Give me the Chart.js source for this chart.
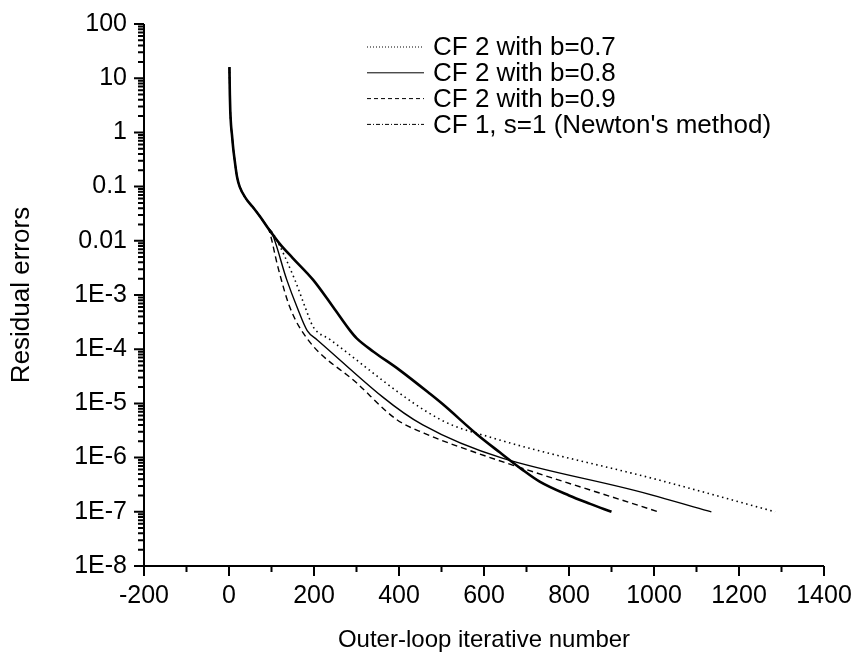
<!DOCTYPE html>
<html>
<head>
  <title>Residual errors vs outer-loop iterations</title>
  <script src="https://cdn.jsdelivr.net/npm/chart.js"></script>
  <style>
    body { margin: 0; background: #fff; }
  </style>
</head>
<body>
  <div style="width: 855px; height: 655px;">
    <canvas id="errPlot"></canvas>
  </div>

  <script>
    // first iterations, common to every run
    const headIter = [1, 2, 3, 5, 7, 10, 14, 19, 25, 40, 56, 73, 90];
    const headErr  = [16, 5, 2.5, 1.3, 0.9, 0.5, 0.28, 0.15, 0.1, 0.06, 0.042, 0.028, 0.018];

    // CF 2, b = 0.7
    const iterB07 = [105, 155, 179, 198, 238, 496, 621, 1009, 1285];
    const errB07  = [0.013, 1.9e-3, 6e-4, 2.6e-4, 1.5e-4, 5.1e-6, 2.3e-6, 3.9e-7, 1e-7];

    // CF 2, b = 0.8
    const iterB08 = [100, 136, 160, 184, 207, 456, 1009, 1135];
    const errB08  = [0.0145, 1.9e-3, 6e-4, 2.2e-4, 1.5e-4, 4e-6, 1.9e-7, 1e-7];

    // CF 2, b = 0.9
    const iterB09 = [95, 115, 143, 183, 300, 395, 460, 540, 1010];
    const errB09  = [0.015, 3.3e-3, 6e-4, 1.6e-4, 2.4e-5, 5e-6, 2.8e-6, 1.6e-6, 1e-7];

    // CF 1, s = 1 (Newton)
    const iterNewton = [100, 120, 150, 198, 245, 285, 300, 340, 400, 473, 504, 583, 637, 690, 731, 800, 850, 900];
    const errNewton  = [0.014, 0.0087, 0.0048, 1.9e-3, 6e-4, 2.2e-4, 1.6e-4, 9e-5, 4.2e-5, 1.5e-5, 9.5e-6, 2.7e-6, 1.25e-6, 6e-7, 3.6e-7, 2e-7, 1.4e-7, 1e-7];

    const seriesLabels = ['CF 2 with b=0.7', 'CF 2 with b=0.8', 'CF 2 with b=0.9', "CF 1, s=1 (Newton's method)"];

    const xMin = -200, xMax = 1400, xStep = 200;
    const yMin = 1e-8, yMax = 100;

    const FONT = 'Liberation Sans, Arial, Helvetica, sans-serif';

    function toPoints(iters, errs) {
      const pts = headIter.map((it, i) => ({ x: it, y: headErr[i] }));
      iters.forEach((it, i) => pts.push({ x: it, y: errs[i] }));
      return pts;
    }

    function decadeLabel(v) {
      const e = Math.round(Math.log10(v));
      if (e >= 0) return String(Math.pow(10, e));
      if (e >= -2) return e === -1 ? '0.1' : '0.01';
      return '1E' + e;
    }

    // axis lines with major/minor ticks pointing outward
    const axesPlugin = {
      id: 'axesTicks',
      afterDraw(chart) {
        const { ctx, chartArea: a, scales: { x, y } } = chart;
        ctx.save();
        ctx.strokeStyle = '#000';
        ctx.lineWidth = 2;
        ctx.beginPath();
        ctx.moveTo(a.left, a.top);
        ctx.lineTo(a.left, a.bottom);
        ctx.lineTo(a.right, a.bottom);
        for (let v = xMin; v <= xMax; v += xStep / 2) {
          const px = x.getPixelForValue(v);
          ctx.moveTo(px, a.bottom);
          ctx.lineTo(px, a.bottom + (v % xStep === 0 ? 10 : 6));
        }
        for (let e = -8; e <= 2; e++) {
          for (let k = 1; k <= 9; k++) {
            const v = k * Math.pow(10, e);
            if (v > yMax * 1.0001) break;
            const py = y.getPixelForValue(v);
            ctx.moveTo(a.left, py);
            ctx.lineTo(a.left - (k === 1 ? 10 : 6), py);
          }
        }
        ctx.stroke();
        ctx.restore();
      }
    };

    // legend drawn inside the plot area
    const insideLegend = {
      id: 'insideLegend',
      afterDraw(chart) {
        const { ctx } = chart;
        ctx.save();
        ctx.font = '26px ' + FONT;
        ctx.textBaseline = 'middle';
        ctx.fillStyle = '#000';
        chart.data.datasets.forEach((ds, i) => {
          const yy = 47 + i * 25.8;
          ctx.strokeStyle = ds.borderColor;
          ctx.lineWidth = 1;
          ctx.setLineDash(ds.legendDash);
          ctx.beginPath();
          ctx.moveTo(367, yy);
          ctx.lineTo(424, yy);
          ctx.stroke();
          ctx.setLineDash([]);
          ctx.fillText(ds.label, 433, yy + 1);
        });
        ctx.restore();
      }
    };

    const common = { borderColor: '#000', backgroundColor: '#000', pointRadius: 0, fill: false, cubicInterpolationMode: 'monotone' };

    new Chart(document.getElementById('errPlot'), {
      type: 'line',
      data: {
        datasets: [
          { ...common, label: seriesLabels[0], data: toPoints(iterB07, errB07), borderWidth: 1.6, borderDash: [1.5, 3.5], legendDash: [1, 2] },
          { ...common, label: seriesLabels[1], data: toPoints(iterB08, errB08), borderWidth: 1.4, borderDash: [], legendDash: [] },
          { ...common, label: seriesLabels[2], data: toPoints(iterB09, errB09), borderWidth: 1.4, borderDash: [6, 4], legendDash: [4, 3] },
          { ...common, label: seriesLabels[3], data: toPoints(iterNewton, errNewton), borderWidth: 2.6, borderDash: [], legendDash: [4, 2, 1, 2] }
        ]
      },
      options: {
        responsive: true,
        maintainAspectRatio: false,
        animation: false,
        layout: { padding: { left: 0, top: 24, right: 31, bottom: 0 } },
        scales: {
          x: {
            type: 'linear',
            min: xMin,
            max: xMax,
            grid: { display: false, drawTicks: false },
            border: { display: false },
            ticks: {
              stepSize: xStep,
              padding: 15,
              color: '#000',
              font: { family: FONT, size: 25 },
              callback: v => String(v)
            },
            title: {
              display: true,
              text: 'Outer-loop iterative number',
              color: '#000',
              font: { family: FONT, size: 24 },
              padding: { top: 0, bottom: 0 }
            },
            afterFit: s => {
              s.height = 89;
              s.paddingLeft = 0;
              s.paddingRight = 0;
            }
          },
          y: {
            type: 'logarithmic',
            min: yMin,
            max: yMax,
            grid: { display: false, drawTicks: false },
            border: { display: false },
            afterBuildTicks: s => {
              const t = [];
              for (let e = -8; e <= 2; e++) t.push({ value: Math.pow(10, e) });
              s.ticks = t;
            },
            ticks: {
              padding: 17,
              color: '#000',
              font: { family: FONT, size: 25 },
              callback: v => decadeLabel(v)
            },
            title: {
              display: true,
              text: 'Residual errors',
              color: '#000',
              font: { family: FONT, size: 26 },
              padding: { top: 6, bottom: 0 }
            },
            afterFit: s => {
              s.width = 144;
              s.paddingTop = 0;
              s.paddingBottom = 0;
            }
          }
        },
        plugins: {
          legend: { display: false },
          tooltip: { enabled: false }
        }
      },
      plugins: [axesPlugin, insideLegend]
    });
  </script>
</body>
</html>
